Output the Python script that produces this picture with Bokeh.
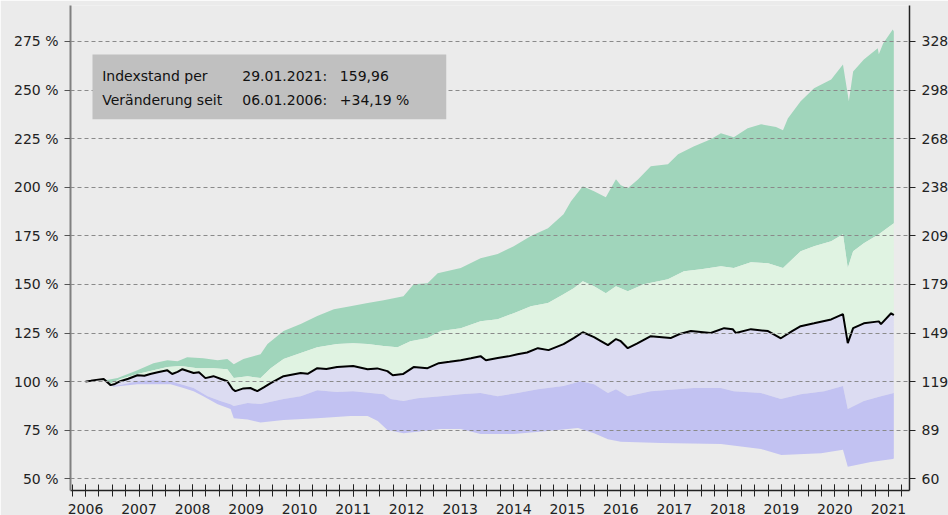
from bokeh.plotting import figure
from bokeh.models import LinearAxis, FixedTicker, BoxAnnotation, Label, Range1d
from bokeh.embed import file_html
from bokeh.resources import INLINE

# ---------------- data ----------------
index_x = [2006.00, 2006.10, 2006.20, 2006.34, 2006.47, 2006.55, 2006.65, 2006.80, 2006.97, 2007.10,
           2007.21, 2007.35, 2007.53, 2007.62, 2007.72, 2007.81, 2008.02, 2008.12, 2008.24, 2008.39,
           2008.52, 2008.65, 2008.75, 2008.80, 2008.95, 2009.08, 2009.21, 2009.33, 2009.46, 2009.70,
           2010.02, 2010.15, 2010.33, 2010.50, 2010.70, 2011.00, 2011.27, 2011.45, 2011.64, 2011.74,
           2011.93, 2012.13, 2012.39, 2012.60, 2012.80, 2013.01, 2013.20, 2013.38, 2013.48, 2013.70,
           2013.90, 2014.07, 2014.25, 2014.45, 2014.65, 2014.93, 2015.12, 2015.29, 2015.50, 2015.62,
           2015.76, 2015.91, 2016.00, 2016.13, 2016.30, 2016.56, 2016.93, 2017.10, 2017.31, 2017.68,
           2017.93, 2018.09, 2018.15, 2018.43, 2018.75, 2018.99, 2019.20, 2019.36, 2019.61, 2019.93,
           2020.15, 2020.24, 2020.34, 2020.54, 2020.82, 2020.86, 2021.05, 2021.10]
index_y = [100.0, 100.4, 100.9, 101.3, 98.2, 98.8, 100.2, 101.5, 103.3, 103.0,
           103.9, 104.8, 105.8, 103.9, 105.0, 106.4, 104.4, 104.8, 101.8, 102.8,
           101.5, 100.2, 96.1, 95.1, 96.5, 96.7, 95.1, 97.0, 99.2, 102.8,
           104.4, 104.0, 106.9, 106.5, 107.5, 108.0, 106.4, 106.8, 105.4, 103.3,
           103.9, 107.5, 106.9, 109.5, 110.2, 111.0, 112.0, 113.1, 111.0, 112.1,
           113.0, 114.1, 115.0, 117.2, 116.2, 119.3, 122.4, 125.4, 122.9, 121.0,
           118.8, 121.9, 120.8, 117.2, 119.5, 123.4, 122.4, 124.5, 126.0, 125.0,
           127.5, 127.0, 125.0, 127.0, 126.0, 122.3, 126.0, 128.5, 130.0, 132.0,
           134.7, 119.8, 127.5, 130.0, 131.0, 129.6, 135.2, 134.2]

upper1_x = [2006.35, 2006.47, 2006.65, 2006.97, 2007.27, 2007.53, 2007.78, 2008.09, 2008.39, 2008.65,
            2008.77, 2009.03, 2009.27, 2009.46, 2009.70, 2010.02, 2010.33, 2010.70, 2011.00, 2011.27,
            2011.57, 2011.83, 2012.07, 2012.39, 2012.64, 2013.01, 2013.38, 2013.70, 2014.00, 2014.32,
            2014.64, 2014.93, 2015.12, 2015.29, 2015.50, 2015.72, 2015.91, 2016.13, 2016.43, 2016.88,
            2017.18, 2017.50, 2017.87, 2018.11, 2018.43, 2018.75, 2019.03, 2019.36, 2019.61, 2019.93,
            2020.15, 2020.24, 2020.34, 2020.54, 2020.82, 2021.10]
upper1_y = [101.3, 99.0, 101.3, 103.9, 105.9, 107.5, 108.0, 106.9, 106.9, 106.4,
            101.8, 102.8, 101.8, 106.9, 111.6, 114.7, 117.7, 119.3, 119.8, 119.3,
            118.3, 117.7, 120.8, 122.4, 126.0, 127.5, 131.1, 132.1, 135.2, 138.8,
            140.4, 145.0, 148.1, 151.7, 149.1, 145.5, 149.1, 146.5, 150.1, 152.7,
            156.8, 157.8, 159.4, 158.4, 161.4, 160.9, 158.4, 167.1, 169.7, 172.2,
            175.8, 158.4, 167.1, 171.2, 175.8, 181.5]

upper2_x = [2006.35, 2006.40, 2006.60, 2006.97, 2007.27, 2007.53, 2007.72, 2007.90, 2008.20, 2008.47,
            2008.65, 2008.77, 2008.95, 2009.27, 2009.40, 2009.70, 2010.02, 2010.33, 2010.64, 2010.95,
            2011.27, 2011.57, 2011.94, 2012.13, 2012.39, 2012.58, 2013.01, 2013.38, 2013.70, 2014.00,
            2014.32, 2014.64, 2014.93, 2015.07, 2015.29, 2015.50, 2015.72, 2015.91, 2016.00, 2016.13,
            2016.32, 2016.56, 2016.88, 2017.07, 2017.36, 2017.68, 2017.87, 2018.11, 2018.37, 2018.62,
            2018.90, 2019.03, 2019.12, 2019.36, 2019.61, 2019.93, 2020.15, 2020.26, 2020.34, 2020.54,
            2020.80, 2020.82, 2020.90, 2021.08, 2021.10]
upper2_y = [101.3, 100.8, 101.8, 105.9, 109.5, 111.0, 110.5, 112.6, 112.0, 111.0,
            111.6, 109.0, 111.6, 114.1, 119.3, 126.0, 129.6, 133.7, 137.3, 138.8,
            140.4, 141.9, 143.9, 150.1, 150.6, 155.8, 158.4, 163.5, 165.6, 169.7,
            174.9, 178.9, 186.1, 192.8, 200.5, 198.0, 194.9, 204.1, 201.0, 199.5,
            204.0, 210.8, 211.8, 217.0, 221.0, 224.7, 227.8, 225.7, 230.3, 232.4,
            231.0, 229.3, 235.4, 244.2, 250.9, 255.5, 263.2, 244.2, 259.6, 265.8,
            271.5, 268.4, 274.0, 281.2, 280.2]

lower1_x = [2006.35, 2006.47, 2006.65, 2006.97, 2007.27, 2007.59, 2007.83, 2008.02, 2008.28, 2008.52,
            2008.71, 2008.77, 2009.03, 2009.27, 2009.70, 2010.02, 2010.33, 2010.70, 2011.00, 2011.33,
            2011.57, 2011.70, 2011.94, 2012.20, 2012.64, 2013.01, 2013.38, 2013.70, 2014.07, 2014.45,
            2014.93, 2015.25, 2015.50, 2015.76, 2015.91, 2016.13, 2016.56, 2017.36, 2017.87, 2018.11,
            2018.62, 2018.99, 2019.36, 2019.80, 2020.15, 2020.24, 2020.54, 2020.86, 2021.10]
lower1_y = [101.3, 97.8, 98.2, 100.2, 100.8, 100.2, 98.2, 96.7, 92.5, 90.0,
            88.4, 87.4, 89.0, 88.5, 91.0, 92.5, 95.6, 94.6, 95.1, 94.1,
            93.5, 91.0, 90.0, 91.5, 92.5, 93.5, 94.1, 92.5, 94.1, 96.1,
            97.7, 100.2, 98.7, 94.1, 96.1, 92.5, 95.1, 96.7, 96.7, 95.1,
            94.1, 91.0, 93.5, 95.1, 97.7, 85.9, 90.0, 92.5, 94.1]

lower2_x = [2006.35, 2006.52, 2006.97, 2007.59, 2007.83, 2008.02, 2008.20, 2008.47, 2008.71, 2008.77,
            2009.03, 2009.27, 2009.70, 2010.33, 2010.95, 2011.27, 2011.46, 2011.64, 2011.94, 2012.32,
            2012.64, 2013.01, 2013.38, 2014.00, 2014.64, 2015.20, 2015.50, 2015.76, 2016.00, 2016.75,
            2017.87, 2018.62, 2019.00, 2019.74, 2020.15, 2020.24, 2020.67, 2021.08, 2021.10]
lower2_y = [101.3, 97.3, 98.7, 98.7, 96.7, 95.1, 92.5, 88.4, 85.9, 81.2,
            80.5, 79.0, 80.2, 81.2, 82.3, 82.3, 79.7, 75.1, 73.5, 74.6,
            75.6, 75.6, 73.0, 73.0, 74.6, 76.1, 73.5, 70.4, 69.0, 68.4,
            67.9, 65.3, 62.2, 63.2, 65.0, 56.2, 58.6, 60.2, 60.4]

pct_ticks = [50, 75, 100, 125, 150, 175, 200, 225, 250, 275]
pct_labels = ["50 %", "75 %", "100 %", "125 %", "150 %", "175 %", "200 %", "225 %", "250 %", "275 %"]
level_labels = ["60", "89", "119", "149", "179", "209", "238", "268", "298", "328"]
years = [2006, 2007, 2008, 2009, 2010, 2011, 2012, 2013, 2014, 2015, 2016, 2017, 2018, 2019, 2020, 2021]
year_labels = [str(y) for y in years]

info_rows = [["Indexstand per", "29.01.2021:", "159,96"],
             ["Veränderung seit", "06.01.2006:", "+34,19 %"]]

# ---------------- styling ----------------
BG = "#ebebeb"
FONT = "DejaVu Sans"
C_UP2 = "#a0d5bb"
C_UP1 = "#e0f3e2"
C_LO1 = "#dcdcf2"
C_LO2 = "#c2c2f2"

p = figure(frame_width=839, frame_height=485,
           x_range=Range1d(2005.72, 2021.393), y_range=Range1d(43.98, 293.52),
           output_backend="svg", toolbar_location=None, title=None,
           min_border_left=70, min_border_right=39, min_border_top=5, min_border_bottom=25,
           background_fill_color=BG, border_fill_color=BG, outline_line_color=None)


def band(xa, ya, xb, yb):
    """Polygon between series a (top, forward) and series b (bottom, reversed)."""
    lo, hi = xa[0], xa[-1]
    pb = [(x, y) for x, y in zip(xb, yb) if lo <= x <= hi]
    xs = list(xa) + [q[0] for q in reversed(pb)]
    ys = list(ya) + [q[1] for q in reversed(pb)]
    return xs, ys


for (xa, ya, xb, yb, col) in [
    (upper2_x, upper2_y, upper1_x, upper1_y, C_UP2),
    (upper1_x, upper1_y, index_x, index_y, C_UP1),
    (index_x, index_y, lower1_x, lower1_y, C_LO1),
    (lower1_x, lower1_y, lower2_x, lower2_y, C_LO2),
]:
    xs, ys = band(xa, ya, xb, yb)
    p.patch(xs, ys, fill_color=col, line_color=None)

p.line(index_x, index_y, line_color="black", line_width=2)

# grid
p.xgrid.visible = False
p.ygrid.ticker = FixedTicker(ticks=pct_ticks)
p.ygrid.grid_line_color = "#8a8a8a"
p.ygrid.grid_line_dash = "4 3"
p.ygrid.grid_line_width = 1
p.ygrid.level = "guide"

# left axis
la = p.yaxis[0]
la.ticker = FixedTicker(ticks=pct_ticks)
la.major_label_overrides = {t: s for t, s in zip(pct_ticks, pct_labels)}
la.axis_line_color = "#808080"
la.axis_line_width = 2
la.major_tick_line_color = "#555555"
la.major_tick_in = 0
la.major_tick_out = 6
la.minor_tick_line_color = None
la.major_label_standoff = 6
la.major_label_text_font = FONT
la.major_label_text_font_size = "14px"
la.major_label_text_color = "#222222"

# right axis
ra = LinearAxis(ticker=FixedTicker(ticks=pct_ticks))
ra.major_label_overrides = {t: s for t, s in zip(pct_ticks, level_labels)}
ra.axis_line_color = "#222222"
ra.axis_line_width = 1.5
ra.major_tick_line_color = "#222222"
ra.major_tick_in = 0
ra.major_tick_out = 6
ra.minor_tick_line_color = None
ra.major_label_standoff = 6
ra.major_label_text_font = FONT
ra.major_label_text_font_size = "14px"
ra.major_label_text_color = "#222222"
p.add_layout(ra, "right")

# bottom axis
quarters = [y + q for y in [2005] + years for q in (0.0, 0.25, 0.5, 0.75)]
quarters = [q for q in quarters if 2005.7 <= q <= 2021.3]
ba = p.xaxis[0]
ba.ticker = FixedTicker(ticks=years, minor_ticks=quarters)
ba.major_label_overrides = {y: s for y, s in zip(years, year_labels)}
ba.axis_line_color = "#222222"
ba.axis_line_width = 1.5
ba.major_tick_line_color = "#222222"
ba.minor_tick_line_color = "#222222"
ba.major_tick_in = 6
ba.major_tick_out = 6
ba.minor_tick_in = 6
ba.minor_tick_out = 6
ba.major_label_standoff = 7
ba.major_label_text_font = FONT
ba.major_label_text_font_size = "14px"
ba.major_label_text_color = "#222222"

# info box
box = BoxAnnotation(left=2006.131, right=2012.739, bottom=235.0, top=268.3,
                    fill_color="#c0c0c0", fill_alpha=1.0, line_color=None, level="annotation")
p.add_layout(box)
col_x = [2006.312, 2008.928, 2010.751]
row_y = [257.0, 245.0]
for ry, row in zip(row_y, info_rows):
    for cx, txt in zip(col_x, row):
        p.add_layout(Label(x=cx, y=ry, text=txt, text_font=FONT, text_font_size="14px",
                           text_color="#111111", text_baseline="middle", text_align="left",
                           level="overlay"))

open("out.html", "w").write(file_html(p, INLINE))
